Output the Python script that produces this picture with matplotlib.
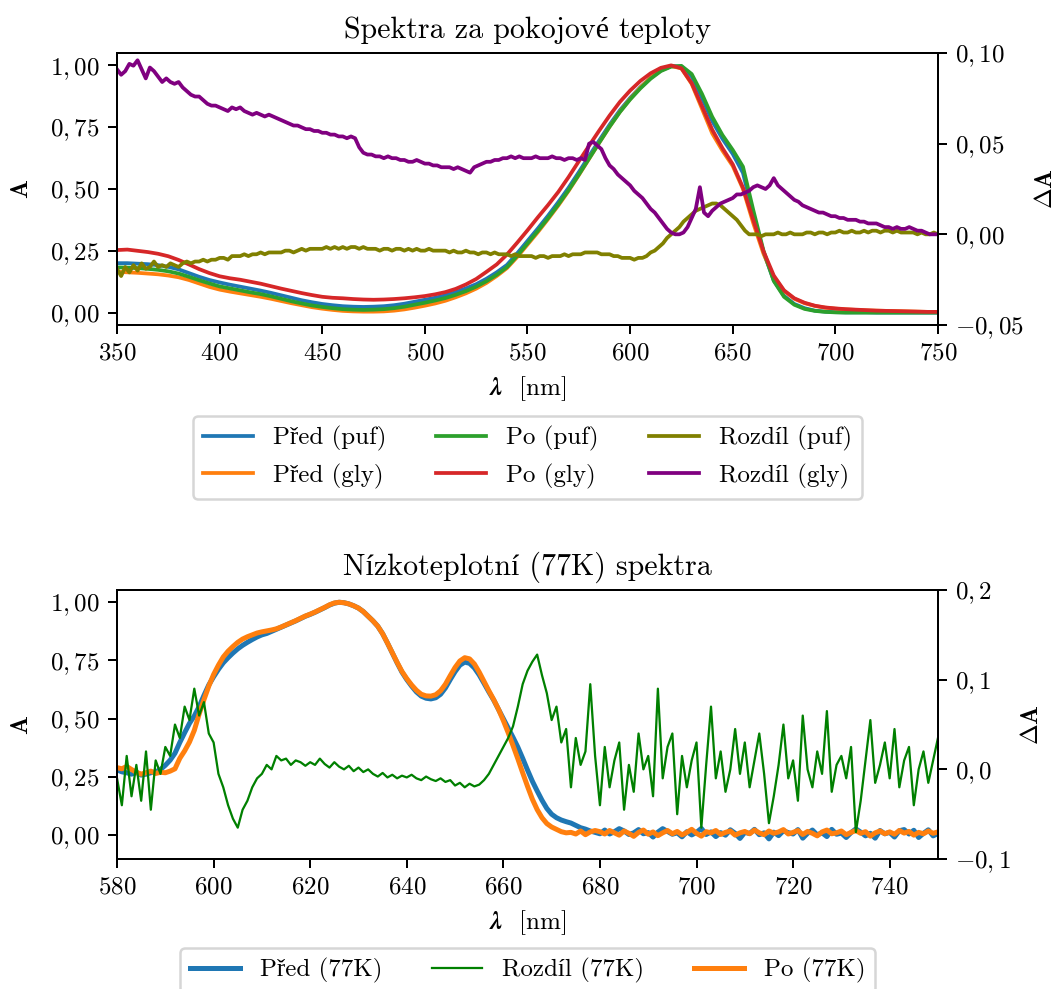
import numpy as np
import matplotlib
matplotlib.use("agg")
import matplotlib.pyplot as plt
from matplotlib.ticker import MultipleLocator, FuncFormatter

plt.rcParams['font.family'] = ['cmr10', 'Liberation Serif', 'DejaVu Serif']
plt.rcParams['mathtext.fontset'] = 'cm'
plt.rcParams['axes.formatter.use_mathtext'] = True
plt.rcParams['font.size'] = 10

# ---- room temperature spectra (5 nm step) ----
wl_rt = np.arange(350, 751, 5)

pred_puf = [
    .200, .200, .198, .196, .192, .185, .175, .160, .145, .132,
    .122, .113, .105, .097, .089, .080, .070, .060, .050, .042,
    .035, .030, .026, .024, .023, .024, .026, .030, .036, .044,
    .052, .060, .070, .083, .098, .115, .137, .163, .193, .240,
    .290, .340, .392, .447, .505, .568, .633, .697, .760, .818,
    .868, .912, .950, .980, .997, .995, .955, .868, .775, .703,
    .642, .565, .395, .245, .130, .068, .035, .018, .008, .004,
    .002, .001, .001, .001, .000, .000, .000, .000, .000, .000,
    .000]
pred_gly = [
    .165, .163, .161, .158, .155, .150, .143, .132, .118, .104,
    .093, .085, .078, .071, .064, .056, .047, .038, .030, .022,
    .016, .011, .007, .005, .004, .004, .005, .008, .013, .020,
    .028, .037, .048, .062, .078, .097, .120, .148, .180, .225,
    .275, .325, .378, .433, .492, .556, .622, .688, .752, .812,
    .864, .910, .950, .980, .997, .988, .925, .825, .725, .655,
    .593, .500, .362, .238, .144, .088, .056, .038, .027, .020,
    .016, .013, .011, .009, .008, .007, .006, .005, .004, .003,
    .003]
po_puf = [
    .183, .182, .180, .177, .173, .167, .158, .145, .131, .118,
    .106, .098, .090, .082, .075, .066, .056, .046, .037, .029,
    .023, .018, .014, .012, .011, .012, .014, .018, .024, .032,
    .040, .049, .059, .072, .087, .105, .127, .153, .184, .230,
    .280, .330, .382, .437, .495, .558, .623, .688, .752, .811,
    .862, .907, .946, .977, .995, .998, .965, .885, .792, .718,
    .658, .590, .415, .250, .128, .064, .032, .015, .007, .003,
    .001, .000, .000, .000, .000, .000, .000, .000, .000, .000,
    .000]
po_gly = [
    .253, .255, .250, .245, .238, .228, .213, .195, .176, .160,
    .147, .139, .133, .125, .117, .107, .097, .088, .079, .071,
    .064, .060, .058, .055, .053, .052, .053, .055, .058, .062,
    .067, .074, .083, .096, .114, .136, .165, .195, .235, .283,
    .333, .385, .435, .488, .548, .612, .675, .737, .797, .852,
    .898, .937, .968, .990, 1.000, .988, .928, .835, .740, .665,
    .600, .505, .375, .248, .150, .090, .058, .040, .028, .021,
    .017, .014, .012, .010, .008, .007, .006, .005, .004, .003,
    .003]

# differences (2 nm step), in units of 1e-3
wl_diff = np.arange(350, 751, 2)
rozdil_puf_m = [
    -19, -23, -18, -21, -17, -20, -16, -19, -18, -15,
    -18, -17, -18, -16, -17, -18, -16, -15, -16, -15,
    -15, -14, -15, -14, -14, -13, -13, -14, -12, -12,
    -12, -11, -12, -11, -11, -10, -11, -10, -10, -10,
    -10, -9, -9, -10, -9, -8, -9, -8, -8, -8,
    -8, -7, -8, -7, -8, -7, -8, -7, -7, -8,
    -7, -8, -8, -8, -9, -8, -8, -9, -8, -8,
    -9, -8, -9, -8, -9, -9, -8, -9, -9, -9,
    -9, -10, -9, -10, -10, -9, -10, -10, -11, -10,
    -10, -11, -10, -11, -11, -11, -12, -11, -12, -12,
    -12, -12, -13, -12, -12, -13, -12, -12, -12, -11,
    -12, -11, -11, -11, -10, -10, -10, -10, -11, -11,
    -11, -12, -12, -13, -13, -13, -14, -13, -13, -12,
    -10, -9, -7, -5, -2, 0, 2, 4, 7, 9,
    11, 13, 14, 15, 16, 17, 17, 16, 14, 12,
    10, 8, 5, 2, 0, 0, 0, -1, 0, 0,
    0, 1, 0, 0, 1, 0, 0, 0, 1, 1,
    0, 1, 1, 0, 1, 1, 2, 1, 1, 2,
    1, 1, 2, 1, 2, 2, 1, 2, 2, 1,
    2, 1, 1, 1, 1, 0, 1, 0, 0, 1,
    0]
rozdil_gly_m = [
    91, 88, 90, 94, 93, 96, 91, 86, 92, 90,
    87, 84, 86, 84, 83, 84, 81, 79, 77, 76,
    76, 74, 72, 71, 71, 70, 69, 68, 70, 69,
    70, 68, 67, 66, 67, 66, 65, 66, 65, 64,
    63, 62, 61, 60, 60, 59, 58, 58, 57, 57,
    56, 56, 55, 55, 54, 54, 53, 54, 53, 48,
    45, 44, 44, 43, 43, 42, 43, 42, 42, 41,
    41, 40, 40, 41, 40, 39, 39, 38, 38, 37,
    37, 37, 36, 37, 36, 35, 34, 37, 38, 39,
    40, 40, 41, 41, 42, 42, 43, 42, 43, 42,
    42, 42, 43, 42, 42, 42, 43, 42, 42, 41,
    42, 42, 41, 42, 41, 50, 51, 49, 47, 42,
    38, 36, 33, 31, 29, 27, 24, 22, 20, 17,
    14, 12, 9, 6, 3, 1, 0, 0, 1, 4,
    9, 14, 26, 12, 10, 13, 15, 17, 18, 19,
    20, 22, 22, 23, 24, 26, 27, 26, 25, 27,
    31, 27, 25, 23, 21, 19, 18, 16, 15, 14,
    13, 12, 12, 11, 10, 10, 9, 9, 8, 8,
    8, 7, 7, 6, 6, 6, 5, 4, 4, 3,
    4, 3, 3, 4, 3, 2, 2, 1, 0, 0,
    0]

# ---- 77 K spectra (1 nm step) ----
wl_77 = np.arange(580, 751, 1)
pred_77 = [
    .280, .272, .268, .262, .270, .258, .262, .268, .272, .282,
    .300, .322, .352, .398, .440, .480, .512, .552, .600, .645,
    .680, .712, .740, .762, .782, .800, .815, .828, .840, .851,
    .860, .866, .875, .884, .893, .902, .911, .920, .930, .940,
    .948, .957, .967, .977, .988, .996, 1.000, .998, .993, .985,
    .975, .960, .940, .920, .897, .865, .825, .782, .740, .700,
    .668, .640, .615, .597, .588, .585, .590, .605, .632, .668,
    .702, .730, .743, .738, .718, .688, .652, .615, .580, .540,
    .500, .460, .420, .378, .330, .280, .232, .190, .150, .115,
    .090, .075, .065, .058, .052, .042, .032, .026, .018, .012,
    .006, .022, .005, .015, .028, .018, .003, .010, .024, .006,
    .011, -.008, .013, .028, .016, .004, .010, -.007, .015, .001,
    .012, .029, .003, .014, -.006, .011, .000, .023, .008, -.014,
    .012, .007, .025, .002, .010, -.016, .013, -.002, .019, .011,
    .005, .024, -.013, .008, .022, .001, .010, -.006, .025, .004,
    .009, -.010, .011, .027, .013, -.003, .008, -.013, .020, .006,
    .012, -.008, .019, .024, .005, .021, -.010, .008, .023, -.003,
    .007]
po_77 = [
    .290, .285, .295, .282, .270, .262, .268, .275, .265, .270,
    .268, .275, .285, .330, .362, .400, .450, .520, .582, .640,
    .690, .730, .765, .790, .810, .828, .842, .852, .860, .868,
    .873, .877, .881, .886, .894, .903, .912, .921, .931, .941,
    .949, .958, .968, .978, .989, .997, 1.000, .998, .993, .985,
    .975, .960, .940, .920, .897, .865, .825, .783, .742, .703,
    .672, .645, .622, .605, .598, .597, .603, .620, .648, .685,
    .720, .748, .762, .757, .735, .700, .660, .620, .582, .540,
    .492, .440, .385, .328, .268, .210, .155, .110, .075, .050,
    .035, .025, .015, .010, .012, .005, .018, .002, .014, .020,
    .015, .005, .020, .010, .000, .018, .008, -.005, .012, .022,
    .004, .014, -.002, .010, .020, .006, .016, .001, .012, .025,
    .008, -.004, .015, .010, .020, .003, .012, .018, .000, .010,
    .016, .006, .022, .010, .002, .018, .008, .014, .024, .005,
    .012, .020, .003, .016, .008, -.003, .014, .022, .006, .010,
    .018, .002, .012, .020, .008, .015, -.004, .010, .018, .006,
    .014, .004, .020, .009, .016, .000, .012, .006, .018, .008,
    .014]
rozdil_77_m = [
    -10, -40, 15, -30, 5, -35, 20, -45, 10, -5,
    25, 15, 50, 35, 70, 55, 90, 60, 75, 40,
    30, -5, -20, -40, -55, -65, -45, -35, -20, -10,
    -5, 5, 0, 15, 10, 12, 5, 10, 8, 4,
    8, 5, 12, 6, 2, 8, 3, 0, 4, -2,
    2, -3, 0, -5, -8, -4, -9, -6, -10, -7,
    -9, -6, -10, -12, -8, -11, -13, -10, -14, -12,
    -18, -15, -20, -16, -19, -17, -12, -5, 5, 15,
    25, 35, 48, 70, 95, 110, 120, 128, 105, 85,
    55, 70, 30, 45, -20, 35, 5, 20, 95, 15,
    -40, 25, -20, 10, 30, -45, 5, -25, 40, 0,
    15, -30, 90, -10, 25, 40, -50, 15, -20, 10,
    30, -65, 5, 70, -10, 20, -25, 0, 45, -5,
    30, -20, 10, 40, -5, -60, -30, 5, 50, -10,
    10, -35, 60, 0, -20, 20, -5, 65, -25, 5,
    15, -10, 25, -70, -35, 10, 55, -15, 5, 30,
    -10, 45, -20, 10, 25, -40, 0, 20, -15, 10,
    35]

rozdil_puf = np.array(rozdil_puf_m) / 1000
rozdil_gly = np.array(rozdil_gly_m) / 1000
rozdil_77 = np.array(rozdil_77_m) / 1000


def comma_fmt(dec):
    return FuncFormatter(lambda v, p: ("$%.*f$" % (dec, v)).replace('.', ','))


xlab = r'$\mathbfit{\lambda}$  [nm]'

fig = plt.figure(figsize=(1062 / 180, 989 / 180), dpi=180)

# top panel
ax1 = fig.add_axes([0.1102, 0.6714, 0.773, 0.275])
ax1b = ax1.twinx()
l1, = ax1.plot(wl_rt, pred_puf, color='C0', lw=1.5, label='Před (puf)')
l2, = ax1.plot(wl_rt, pred_gly, color='C1', lw=1.5, label='Před (gly)')
l3, = ax1.plot(wl_rt, po_puf, color='C2', lw=1.5, label='Po (puf)')
l4, = ax1.plot(wl_rt, po_gly, color='C3', lw=1.5, label='Po (gly)')
l5, = ax1b.plot(wl_diff, rozdil_puf, color='olive', lw=1.5, label='Rozdíl (puf)')
l6, = ax1b.plot(wl_diff, rozdil_gly, color='purple', lw=1.5, label='Rozdíl (gly)')
ax1.set_xlim(350, 750)
ax1.set_ylim(-0.05, 1.05)
ax1b.set_ylim(-0.05, 0.10)
ax1.yaxis.set_major_locator(MultipleLocator(0.25))
ax1b.yaxis.set_major_locator(MultipleLocator(0.05))
ax1.yaxis.set_major_formatter(comma_fmt(2))
ax1b.yaxis.set_major_formatter(comma_fmt(2))
ax1.set_title('Spektra za pokojové teploty', fontsize=12)
ax1.set_xlabel(xlab)
ax1.set_ylabel(r'$\mathbf{A}$', labelpad=6.5)
ax1b.set_ylabel(r'$\mathbf{\Delta A}$')
hs = [l1, l2, l3, l4, l5, l6]
ax1.legend(hs, [h.get_label() for h in hs],
           loc='upper center', bbox_to_anchor=(0.5, -0.289), ncol=3, fontsize=10)

# bottom panel
ax2 = fig.add_axes([0.1102, 0.1314, 0.773, 0.272])
ax2b = ax2.twinx()
m1, = ax2.plot(wl_77, pred_77, color='C0', lw=2, label='Před (77K)')
m3, = ax2.plot(wl_77, po_77, color='C1', lw=2, label='Po (77K)')
m2, = ax2b.plot(wl_77, rozdil_77, color='green', lw=0.9, label='Rozdíl (77K)')
ax2.set_xlim(580, 750)
ax2.set_ylim(-0.1025, 1.0525)
ax2b.set_ylim(-0.1, 0.2)
ax2.xaxis.set_major_locator(MultipleLocator(20))
ax2.yaxis.set_major_locator(MultipleLocator(0.25))
ax2b.yaxis.set_major_locator(MultipleLocator(0.1))
ax2.yaxis.set_major_formatter(comma_fmt(2))
ax2b.yaxis.set_major_formatter(comma_fmt(1))
ax2.set_title('Nízkoteplotní (77K) spektra', fontsize=12)
ax2.set_xlabel(xlab)
ax2.set_ylabel(r'$\mathbf{A}$', labelpad=6.5)
ax2b.set_ylabel(r'$\mathbf{\Delta A}$')
hs2 = [m1, m2, m3]
ax2.legend(hs2, [h.get_label() for h in hs2],
           loc='upper center', bbox_to_anchor=(0.5, -0.285), ncol=3, fontsize=10)

fig.savefig('out.png', dpi=180)
